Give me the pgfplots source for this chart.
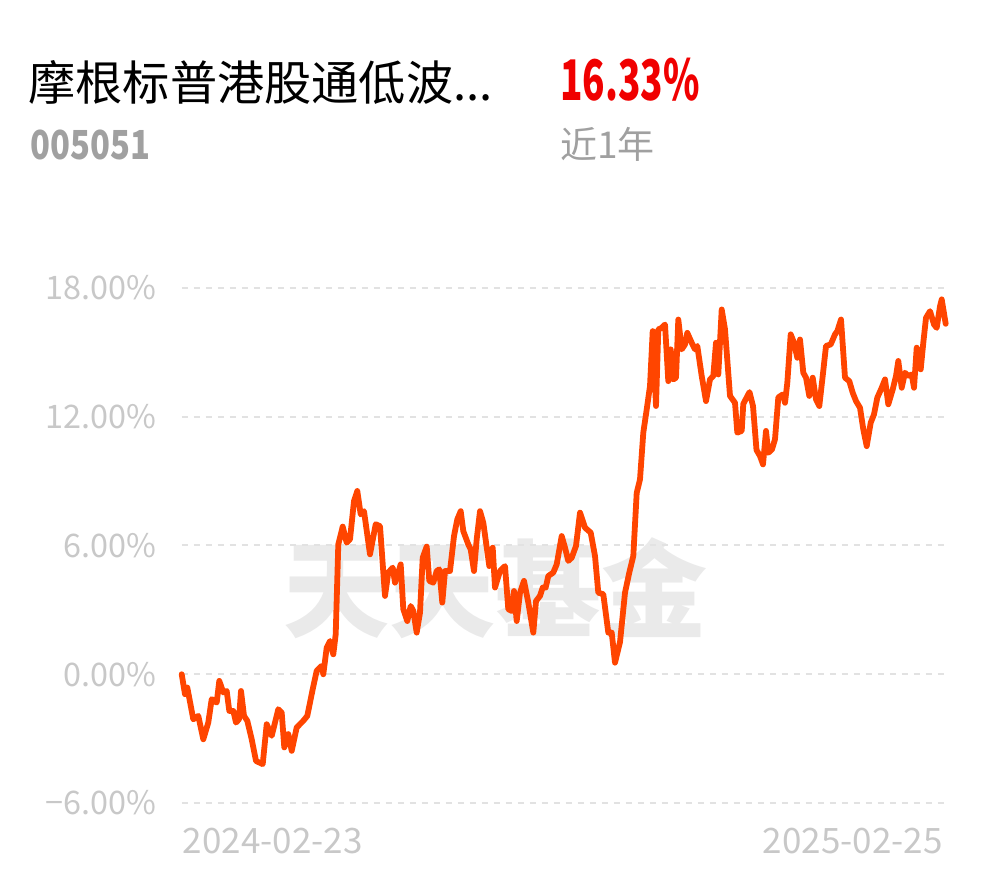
\documentclass[border=0pt]{standalone}
\usepackage{pgfplots}
\pgfplotsset{compat=1.18}
\usepackage{graphicx}
\usepackage{fontspec}
\setmainfont{Noto Sans CJK SC}
\definecolor{lineorange}{HTML}{FF4500}
\definecolor{gridgray}{HTML}{E2E2E2}
\definecolor{ticklab}{HTML}{C8C8C8}
\definecolor{subgray}{HTML}{A0A0A0}
\definecolor{retred}{HTML}{F00000}
\definecolor{wmgray}{HTML}{EAEAEA}
\begin{document}
\begin{tikzpicture}
\path (0,0) rectangle (495pt,439pt);
% header
\node[anchor=base west, inner sep=0pt] at (14pt,388.5pt) {\fontsize{23.6pt}{23.6pt}\selectfont 摩根标普港股通低波...};
\node[anchor=base west, inner sep=0pt, text=retred] at (280pt,388.5pt) {\scalebox{0.66}[1]{\fontsize{28pt}{28pt}\selectfont\bfseries 16.33\%}};
\node[anchor=base west, inner sep=0pt, text=subgray] at (15pt,359pt) {\scalebox{0.82}[1]{\fontsize{20pt}{20pt}\selectfont\bfseries 005051}};
\node[anchor=base west, inner sep=0pt, text=subgray] at (280pt,359.5pt) {\fontsize{18.5pt}{18.5pt}\selectfont 近1年};
% watermark
\node[inner sep=0pt, text=wmgray] at (247.5pt,145pt) {\fontsize{53pt}{53pt}\selectfont\bfseries 天天基金};
\begin{axis}[
  at={(90.75pt,37.5pt)}, anchor=south west,
  scale only axis, width=382.25pt, height=257.5pt,
  xmin=181.5, xmax=946, ymin=-6, ymax=18,
  axis line style={draw=none},
  clip=false,
  xtick=\empty,
  ytick={-6,0,6,12,18},
  yticklabels={−6.00\%,0.00\%,6.00\%,12.00\%,18.00\%},
  major tick length=0pt,
  ymajorgrids,
  grid style={gridgray, line width=1pt, dash pattern=on 3pt off 3pt},
  yticklabel style={font=\fontsize{16.2pt}{16.2pt}\selectfont, text=ticklab, inner sep=0pt, xshift=-12.25pt},
  /pgf/number format/assume math mode=true,
]
\addplot[lineorange, line width=2.9pt, line join=round, line cap=round, no markers] coordinates {
(181.7,0) (185,-0.93) (187.3,-0.62) (193.3,-2.1) (198.3,-1.94) (203.3,-3.03) (208.3,-2.25) (211.7,-1.16)
(216.7,-1.32) (219.3,-0.31) (223.3,-0.85) (226.7,-0.78) (229.3,-1.71) (233.3,-1.71) (236,-2.25) (239,-2.1)
(241,-0.78) (244,-1.94) (247.3,-2.17) (251.7,-3.03) (256,-4.04) (262.7,-4.19) (266.7,-2.33) (271.7,-2.87)
(278.3,-1.63) (281.7,-1.79) (284.3,-3.41) (288.3,-2.79) (291.7,-3.57) (296.7,-2.48) (303.3,-2.17) (307.3,-1.94)
(312.7,-0.7) (316.7,0.16) (321.7,0.39) (323.3,0) (326.7,1.24) (330,1.55) (333.3,0.93) (335.7,1.86)
(338.3,6.05) (342.7,6.88) (346.7,6.13) (350,6.29) (354,8.07) (357.3,8.54) (360.7,7.45) (364,7.6)
(370,5.59) (375.7,6.99) (380,6.9) (385,3.65) (388.3,4.74) (392.7,4.97) (395,4.27) (398.3,4.74)
(400.7,5.12) (403.3,3.03) (407.3,2.48) (410.7,3.18) (413.3,2.95) (416.7,1.94) (420,2.87) (422.7,5.43)
(426.7,5.95) (429.3,4.35) (433.3,4.27) (436.7,4.81) (439.3,4.89) (442.3,3.34) (445,4.81) (450,4.81)
(454,6.44) (457.3,7.22) (460.7,7.6) (463.3,6.67) (468.3,6.05) (470.7,5.82) (474,4.81) (476.7,6.29)
(480,7.6) (483.3,7.06) (489.3,5.04) (492.7,5.9) (495,4.04) (500,4.81) (505,5.04) (508.3,3.03)
(511.7,2.95) (514,3.88) (516.7,2.48) (520,3.8) (524,4.35) (528.3,3.34) (533.3,1.94) (536,3.41)
(540,3.65) (542.7,4.04) (545.7,4.04) (548.3,4.58) (553.3,4.74) (556.7,5.12) (561.7,6.44) (565,5.9)
(568.3,5.28) (571.7,5.43) (576,5.98) (580,7.53) (585,6.83) (590.7,6.6) (595,5.51) (598.3,3.8)
(603.3,3.73) (608.3,1.94) (611.7,1.94) (615,0.54) (620,1.5) (625,3.8) (629.3,4.74) (633.3,5.51)
(636.7,8.45) (640,9.08) (643.3,11.26) (646.7,12.34) (650,13.43) (652.7,15.99) (656,12.5) (658.3,16.07)
(661.7,16.14) (665,16.3) (668.3,13.66) (670.7,15.14) (673.3,13.74) (676,13.82) (678.3,16.53) (681.7,15.14)
(685,15.37) (687.3,15.91) (691.7,15.45) (695,15.14) (697.3,15.3) (701.7,13.9) (706,12.73) (710,13.74)
(713.3,13.9) (716,15.45) (718.3,13.97) (721.7,17.0) (725,16.07) (730,12.97) (735,12.65) (737.3,11.26)
(741.7,11.34) (743.3,12.6) (749.5,13.15) (753,12.5) (756.5,10.45) (760,10.17) (763,9.78) (766,11.34)
(768.3,10.32) (772,10.48) (775,10.95) (778.3,12.9) (782.7,13.04) (785,12.65) (787.3,13.58) (790.7,15.84)
(794,15.45) (797.3,14.75) (800,15.6) (803.3,14.05) (806,13.82) (809.3,12.97) (812.7,13.82) (816,12.81)
(819.3,12.5) (822.7,13.9) (826,15.3) (830.7,15.37) (835,15.84) (837.3,15.99) (841,16.53) (845,13.82)
(849.3,13.66) (852.7,13.12) (856,12.73) (860,12.42) (863.3,11.41) (866.7,10.63) (870.7,11.72) (874,12.11)
(877.3,12.89) (881.7,13.35) (885,13.74) (888.3,12.58) (892.7,13.27) (896,13.9) (898.3,14.6) (901.7,13.35)
(905,14.05) (908.3,13.9) (911.7,13.97) (914,13.35) (916.7,15.22) (920.7,14.21) (923.3,15.45) (926,16.61)
(930,16.92) (934,16.3) (936.7,16.14) (940,17.15) (941.7,17.47) (945.7,16.33)
};
\node[anchor=north west, inner sep=0pt, text=ticklab, font=\fontsize{17.5pt}{17.5pt}\selectfont] at (rel axis cs:0,0) [yshift=-12.5pt, xshift=0.5pt] {2024-02-23};
\node[anchor=north east, inner sep=0pt, text=ticklab, font=\fontsize{17.5pt}{17.5pt}\selectfont] at (rel axis cs:1,0) [yshift=-12.5pt, xshift=-1.5pt] {2025-02-25};
\end{axis}
\end{tikzpicture}
\end{document}
